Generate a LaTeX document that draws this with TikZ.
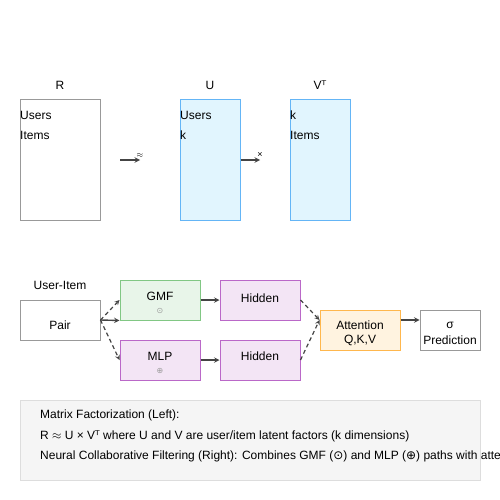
\documentclass[tikz,border=0pt]{standalone}
\usepackage{fontspec}
\setmainfont{Liberation Sans}
\newfontfamily\symfont{DejaVu Sans}
\usepackage{tikz}
\usetikzlibrary{arrows,calc}

\definecolor{edgegray}{HTML}{999999}
\definecolor{arrowgray}{HTML}{444444}
\definecolor{ublue}{HTML}{E1F5FE}
\definecolor{ubluedraw}{HTML}{64B5F6}
\definecolor{gmfgreen}{HTML}{E8F5E9}
\definecolor{gmfdraw}{HTML}{81C784}
\definecolor{mlppurple}{HTML}{F3E5F5}
\definecolor{mlpdraw}{HTML}{BA68C8}
\definecolor{attorange}{HTML}{FFF3E0}
\definecolor{attdraw}{HTML}{FFB74D}
\definecolor{notegray}{HTML}{F5F5F5}
\definecolor{notedraw}{HTML}{DDDDDD}

\begin{document}
\begin{tikzpicture}[x=1pt,y=-1pt,>=stealth,font=\fontsize{12}{14}\selectfont,
      box/.style={rectangle,draw=edgegray,line width=1pt,inner sep=0pt},
      txt/.style={inner sep=0pt},
      lefttxt/.style={inner sep=0pt,anchor=west},
      symb/.style={inner sep=0pt,text=edgegray,font=\symfont\fontsize{8}{9}\selectfont},
      flow/.style={->,draw=arrowgray,line width=1.4pt},
      dflow/.style={->,draw=arrowgray,line width=1.2pt,dash pattern=on 4pt off 3pt}]
      \useasboundingbox (0,0) rectangle (500,500);
      % matrix factorization
      \node[box,minimum width=80pt,minimum height=120pt] (R) at (60,160) {};
      \node[box,fill=ublue,draw=ubluedraw,minimum width=60pt,minimum height=120pt] (U) at (210,160) {};
      \node[box,fill=ublue,draw=ubluedraw,minimum width=60pt,minimum height=120pt] (V) at (320,160) {};
      \node[txt] (Rlabel) at (60,85) {R};
      \node[txt] (Ulabel) at (210,85) {U};
      \node[txt] (Vlabel) at (320,85) {V{\symfont ᵀ}};
      \node[lefttxt] (Rusers) at (20,115) {Users};
      \node[lefttxt] (Ritems) at (20,135) {Items};
      \node[lefttxt] (Uusers) at (180,115) {Users};
      \node[lefttxt] (Uk) at (180,135) {k};
      \node[lefttxt] (Vk) at (290,115) {k};
      \node[lefttxt] (Vitems) at (290,135) {Items};
      \coordinate (approxstart) at (120,160);
      \coordinate (approxend) at (140,160);
      \coordinate (timesend) at (260,160);
      \draw[flow] (approxstart) -- (approxend);
      \draw[flow] (U.east) -- (timesend);
      \node[txt,font=\fontsize{8}{9}\selectfont] (approx) at (140,155) {$\approx$};
      \node[txt,font=\fontsize{9}{10}\selectfont] (times) at (260,155) {×};
      % neural collaborative filtering
      \node[box,minimum width=80pt,minimum height=40pt] (pair) at (60,320) {};
      \node[box,fill=gmfgreen,draw=gmfdraw,minimum width=80pt,minimum height=40pt] (gmf) at (160,300) {};
      \node[box,fill=mlppurple,draw=mlpdraw,minimum width=80pt,minimum height=40pt] (mlp) at (160,360) {};
      \node[box,fill=mlppurple,draw=mlpdraw,minimum width=80pt,minimum height=40pt] (hidA) at (260,300) {};
      \node[box,fill=mlppurple,draw=mlpdraw,minimum width=80pt,minimum height=40pt] (hidB) at (260,360) {};
      \node[box,fill=attorange,draw=attdraw,minimum width=80pt,minimum height=40pt] (att) at (360,330) {};
      \node[box,minimum width=60pt,minimum height=40pt] (pred) at (450,330) {};
      \node[txt] (pairtop) at (60,285) {User-Item};
      \node[txt] (pairtxt) at (60,325) {Pair};
      \node[txt] (gmftxt) at (160,296) {GMF};
      \node[symb] (gmfsym) at (160,311) {⊙};
      \node[txt] (mlptxt) at (160,356) {MLP};
      \node[symb] (mlpsym) at (160,371) {⊕};
      \node[txt] (hidAtxt) at (260,298) {Hidden};
      \node[txt] (hidBtxt) at (260,356) {Hidden};
      \node[txt] (atttxt) at (360,325) {Attention};
      \node[txt] (attqkv) at (360,340) {Q,K,V};
      \node[txt] (predsig) at (450,325) {σ};
      \node[txt] (predtxt) at (450,340) {Prediction};
      \draw[dflow] (pair.east) -- (gmf.west);
      \draw[flow] (pair.east) -- (gmf.south west);
      \draw[dflow] (pair.east) -- (mlp.west);
      \draw[flow] (gmf.east) -- (hidA.west);
      \draw[flow] (mlp.east) -- (hidB.west);
      \draw[dflow] (hidA.east) -- ([yshift=10pt]att.west);
      \draw[dflow] (hidB.east) -- ([yshift=10pt]att.west);
      \draw[flow] ([yshift=10pt]att.east) -- ([yshift=10pt]pred.west);
      % notes
      \node[box,fill=notegray,draw=notedraw,minimum width=460pt,minimum height=80pt] (notes) at (250,440) {};
      \node[lefttxt] (note1) at (40,415) {Matrix Factorization (Left):};
      \node[lefttxt] (note2) at (40,436) {R $\approx$ U × V{\symfont ᵀ} where U and V are user/item latent factors (k dimensions)};
      \node[lefttxt] (note3) at (40,456) {Neural Collaborative Filtering (Right): Combines GMF ({\symfont ⊙}) and MLP ({\symfont ⊕}) paths with attention};
    \end{tikzpicture}
\end{document}
